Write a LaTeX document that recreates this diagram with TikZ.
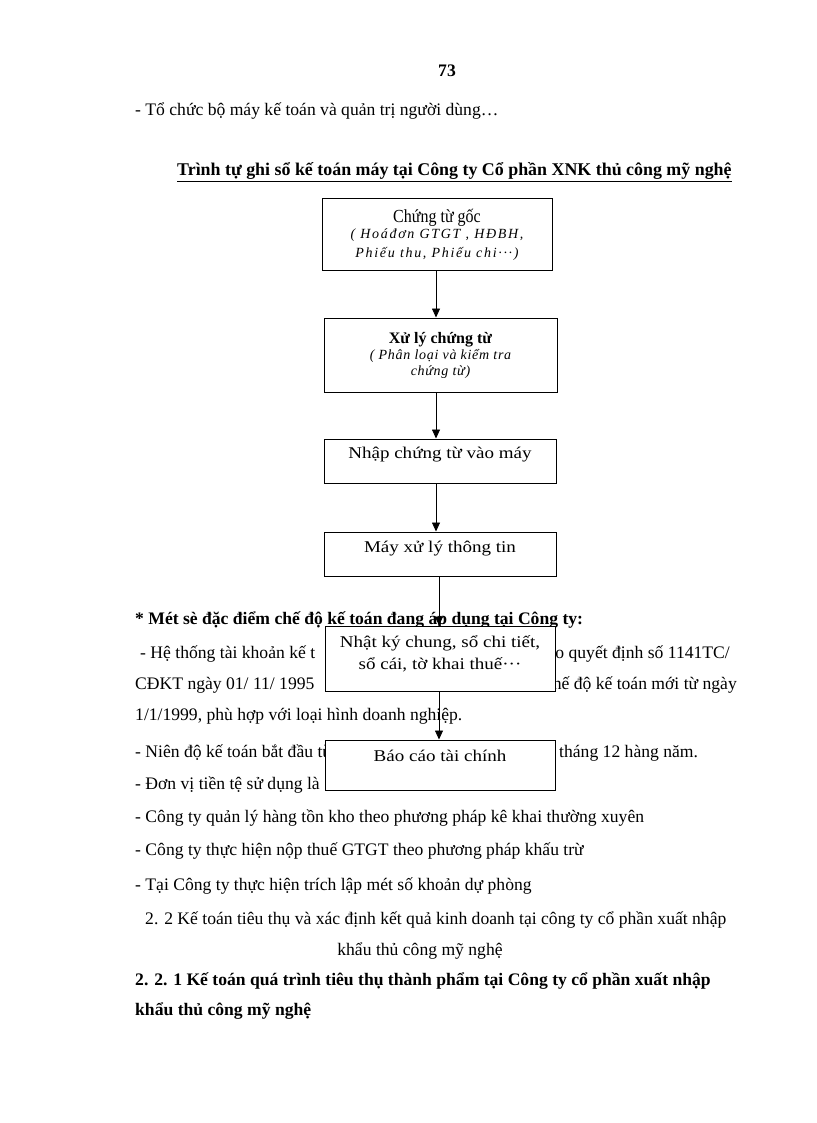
\documentclass[tikz,border=0pt]{standalone}
\usepackage{fontspec}
\usepackage{graphicx}
\setmainfont{Liberation Serif}
\usetikzlibrary{arrows.meta}
\tikzset{
  txt/.style={anchor=base west, inner sep=0pt, font=\fontsize{17.6}{20}\selectfont},
  btxt/.style={txt, font=\fontsize{17.6}{20}\selectfont\bfseries},
  flowbox/.style={draw, line width=1pt, fill=white, align=center, inner sep=2pt, font=\fontsize{16}{21}\selectfont},
  bigbox/.style={flowbox, font=\fontsize{16.4}{22}\selectfont},
  flowarrow/.style={line width=0.8pt, -{Triangle[width=8pt,length=9pt]}}
}
\newcommand{\sitl}[1]{{\fontsize{14}{20}\selectfont\itshape\addfontfeatures{LetterSpace=12}#1}}
\newcommand{\sitll}[1]{{\fontsize{14}{20}\selectfont\itshape\addfontfeatures{LetterSpace=5}#1}}
\newcommand{\wideline}[1]{\scalebox{1.16}[1]{#1}}
\newcommand{\narrowline}[1]{\scalebox{0.87}[1]{\fontsize{18.4}{21}\selectfont #1}}
\begin{document}
\begin{tikzpicture}[x=1pt,y=-1pt]
\useasboundingbox (0,0) rectangle (816,1123);
\fill[white] (0,0) rectangle (816,1123);
% header
\node[btxt, anchor=base] (pg) at (447,77) {73};
\node[txt] (l0) at (135,116) {- Tổ chức bộ máy kế toán và quản trị người dùng…};
\node[btxt, font=\fontsize{17.9}{20}\selectfont\bfseries] (title) at (177,176) {\underline{Trình tự ghi sổ kế toán máy tại Công ty Cổ phần XNK thủ công mỹ nghệ}};
% body text behind boxes
\node[btxt] (l1) at (135,624) {* Mét sè đặc điểm chế độ kế toán đang áp dụng tại Công ty:};
\node[txt] (l2a) at (140,658) {- Hệ thống tài khoản kế t};
\node[txt, anchor=base east] (l2b) at (730,658) {heo quyết định số 1141TC/};
\node[txt] (l3a) at (135,689) {CĐKT ngày 01/ 11/ 1995};
\node[txt, anchor=base east] (l3b) at (737,689) {chế độ kế toán mới từ ngày};
\node[txt] (l4) at (135,720) {1/1/1999, phù hợp với loại hình doanh nghiệp.};
\node[txt] (l5a) at (135,757) {- Niên độ kế toán bắt đầu từ};
\node[txt] (l5b) at (559,757) {tháng 12 hàng năm.};
\node[txt] (l6a) at (135,789) {- Đơn vị tiền tệ sử dụng là};
\node[txt] (l7) at (135,822) {- Công ty quản lý hàng tồn kho theo phương pháp kê khai thường xuyên};
\node[txt] (l8) at (135,855) {- Công ty thực hiện nộp thuế GTGT theo phương pháp khấu trừ};
\node[txt] (l9) at (135,890) {- Tại Công ty thực hiện trích lập mét số khoản dự phòng};
\node[txt] (l10) at (145,924) {2. 2 Kế toán tiêu thụ và xác định kết quả kinh doanh tại công ty cổ phần xuất nhập};
\node[txt, anchor=base] (l11) at (420,955) {khẩu thủ công mỹ nghệ};
\node[btxt] (l12) at (135,985) {2. 2. 1 Kế toán quá trình tiêu thụ thành phẩm tại Công ty cổ phần xuất nhập};
\node[btxt] (l13) at (135,1015) {khẩu thủ công mỹ nghệ};
% flow boxes
\node[flowbox, minimum width=230pt, minimum height=71pt] (b1) at (437,234.5)
  {\narrowline{Chứng từ gốc}\\[-5pt]\sitl{( Hoáđơn GTGT , HĐBH,}\\[-2pt]\sitl{Phiếu thu, Phiếu chi···)}};
\node[flowbox, minimum width=233pt, minimum height=74pt] (b2) at (440.5,355)
  {\textbf{Xử lý chứng từ}\\[-5pt]\sitll{( Phân loại và kiểm tra}\\[-5pt]\sitll{chứng từ)}};
\node[bigbox, minimum width=232pt, minimum height=44pt, text depth=17pt] (b3) at (440,461) {\wideline{Nhập chứng từ vào máy}};
\node[bigbox, minimum width=232pt, minimum height=44pt, text depth=15pt] (b4) at (440,554) {\wideline{Máy xử lý thông tin}};
\node[bigbox, minimum width=230pt, minimum height=65pt, text depth=12pt] (b5) at (440,658.5) {\wideline{Nhật ký chung, sổ chi tiết,}\\\wideline{sổ cái, tờ khai thuế···}};
\node[bigbox, minimum width=230pt, minimum height=50pt, text depth=19pt] (b6) at (440,765) {\wideline{Báo cáo tài chính}};
% arrows
\coordinate (ax) at (436,0);
\coordinate (bx) at (439,0);
\draw[flowarrow] (b1.south -| ax) -- (b2.north -| ax);
\draw[flowarrow] (b2.south -| ax) -- (b3.north -| ax);
\draw[flowarrow] (b3.south -| ax) -- (b4.north -| ax);
\draw[flowarrow] (b4.south -| bx) -- (b5.north -| bx);
\draw[flowarrow] (b5.south -| bx) -- (b6.north -| bx);
\end{tikzpicture}
\end{document}
